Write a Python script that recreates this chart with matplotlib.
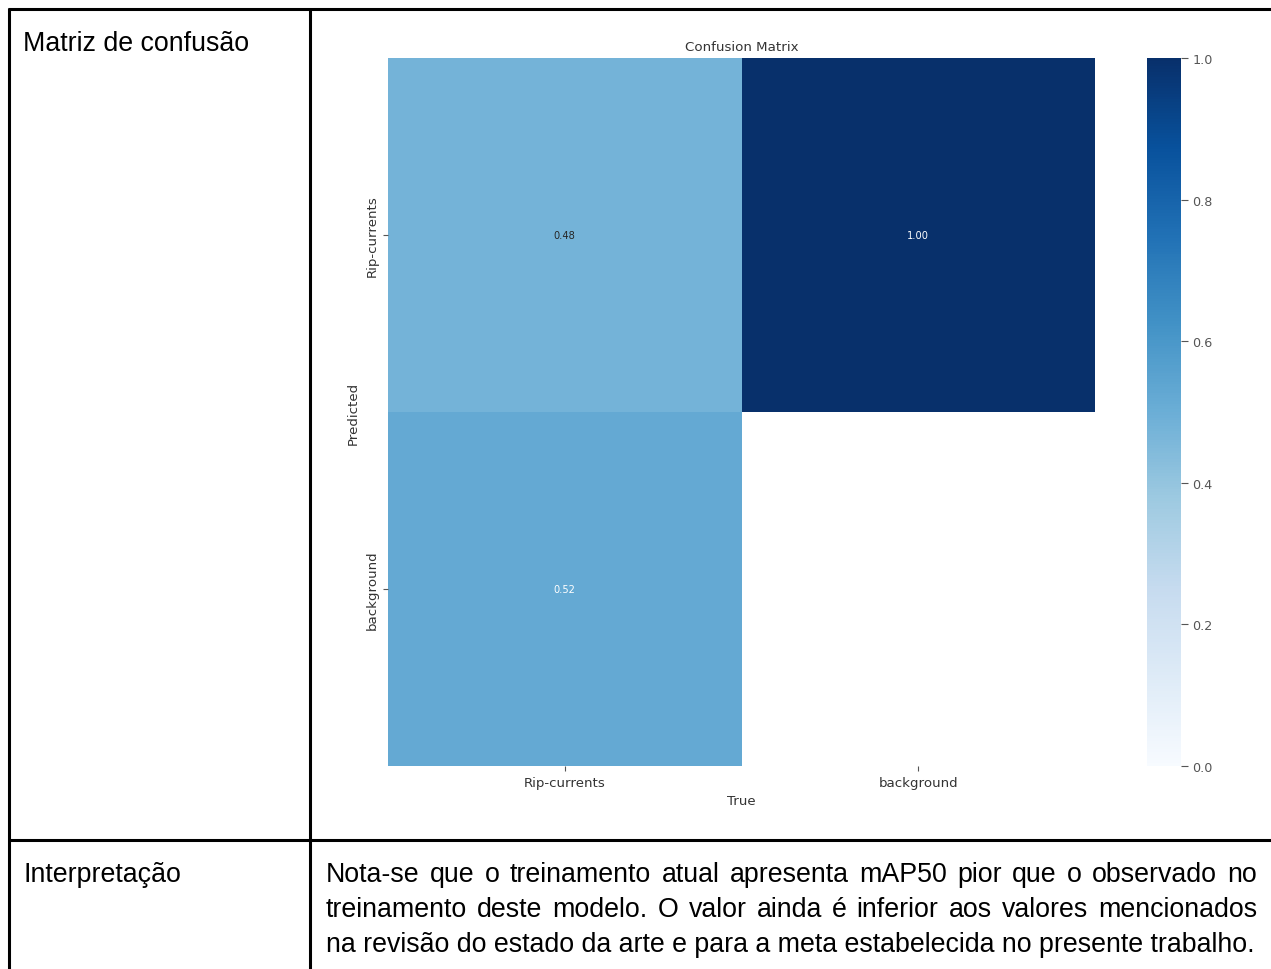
import numpy as np
import matplotlib
matplotlib.use("Agg")
import matplotlib.pyplot as plt
import seaborn as sns
from matplotlib.lines import Line2D

# Confusion matrix data (rows: Predicted, columns: True)
class_names = ["Rip-currents", "background"]
matrix_values = [
    [0.48, 1.00],
    [0.52, 0.00],
]
cbar_ticks = [0.0, 0.2, 0.4, 0.6, 0.8, 1.0]

row_labels = ["Matriz de confusão", "Interpretação"]
interp_lines = [
    "Nota-se que o treinamento atual apresenta mAP50 pior que o observado no",
    "treinamento deste modelo. O valor ainda é inferior aos valores mencionados",
    "na revisão do estado da arte e para a meta estabelecida no presente trabalho.",
]

W, H = 1271, 970
DPI = 100
fig = plt.figure(figsize=(W / DPI, H / DPI), dpi=DPI)
fig.patch.set_facecolor("white")


def fx(px):
    return px / W


def fy(py):
    return 1 - py / H


# Table frame
frame_kw = dict(color="black", linewidth=2.2, solid_capstyle="butt", transform=fig.transFigure)
for xs, ys in [
    ((8, W), (10, 10)),        # top border
    ((9, 9), (9, H)),          # left border
    ((310, 310), (9, H)),      # column divider
    ((8, W), (841, 841)),      # row divider
]:
    fig.add_artist(Line2D([fx(x) for x in xs], [fy(y) for y in ys], **frame_kw))

table_font = dict(family=["Liberation Sans", "DejaVu Sans"], size=19.3, color="black")
fig.text(fx(23), fy(51), row_labels[0], ha="left", va="baseline", **table_font)
fig.text(fx(23), fy(882), row_labels[1], ha="left", va="baseline", **table_font)

# Justified paragraph in the lower right cell
renderer = fig.canvas.get_renderer()
x_left, x_right = 326, 1257
baselines = [882, 917, 952]
for i, (line, base) in enumerate(zip(interp_lines, baselines)):
    if i == len(interp_lines) - 1:
        fig.text(fx(x_left), fy(base), line, ha="left", va="baseline", **table_font)
        continue
    words = line.split(" ")
    arts = [fig.text(0, fy(base), w, ha="left", va="baseline", **table_font) for w in words]
    widths = [a.get_window_extent(renderer).width for a in arts]
    gap = (x_right - x_left - sum(widths)) / (len(words) - 1)
    x = x_left
    for a, w in zip(arts, widths):
        a.set_x(fx(x))
        x += w + gap

# Heatmap
vals = np.array(matrix_values, dtype=float)
vals[vals < 0.005] = np.nan

text_col = "#333333"
ax = fig.add_axes([fx(388), fy(767), fx(1095) - fx(388), fy(59) - fy(767)])
cax = fig.add_axes([fx(1147), fy(767), fx(1181) - fx(1147), fy(59) - fy(767)])
sns.heatmap(
    vals, ax=ax, cbar_ax=cax, cmap="Blues", vmin=0.0, vmax=1.0,
    annot=True, fmt=".2f", annot_kws={"size": 7.1},
    xticklabels=class_names, yticklabels=class_names,
)
ax.set_title("Confusion Matrix", fontsize=9.6, color=text_col, pad=6)
ax.set_xlabel("True", fontsize=9.6, color=text_col, labelpad=4)
ax.set_ylabel("Predicted", fontsize=9.6, color=text_col, labelpad=4)
ax.tick_params(axis="both", labelsize=9.6, labelcolor=text_col, color="#555555", length=3.5, width=0.8)
plt.setp(ax.get_yticklabels(), rotation=90, va="center")
plt.setp(ax.get_xticklabels(), rotation=0)

cax.set_yticks(cbar_ticks)
cax.tick_params(labelsize=9.2, labelcolor="#555555", color="#555555", length=5, width=0.8, pad=3)
for s in cax.spines.values():
    s.set_visible(False)

fig.savefig("out.png", dpi=DPI, facecolor="white")
